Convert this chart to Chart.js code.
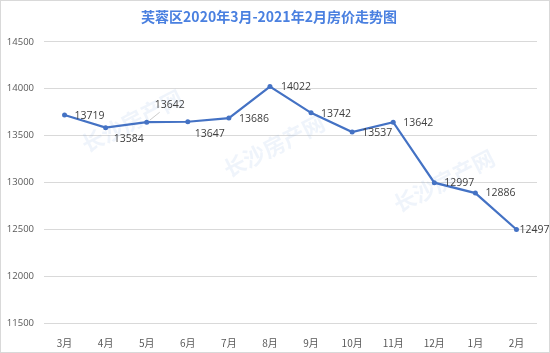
<!DOCTYPE html>
<html>
<head>
<meta charset="utf-8">
<script src="https://cdn.jsdelivr.net/npm/chart.js@4"></script>
<style>
  html, body { margin: 0; padding: 0; background: #fff; }
  #wrap { width: 548px; height: 351px; border: 1px solid #d9d9d9; }
</style>
</head>
<body>
<div id="wrap"><canvas id="myChart" width="548" height="351"></canvas></div>
<script>
var months = ["3月", "4月", "5月", "6月", "7月", "8月", "9月", "10月", "11月", "12月", "1月", "2月"];
var prices = [13719, 13584, 13642, 13647, 13686, 14022, 13742, 13537, 13642, 12997, 12886, 12497];
var yTicks = [11500, 12000, 12500, 13000, 13500, 14000, 14500];

// where each value label sits relative to its point (dx, dy)
var labelOffsets = [
  [10, 1], [8, 11], [8, -17], [7, 12], [10, 1], [11, 0],
  [10, 1], [10, 1], [10, 1], [10, 0], [10, 0], [3, 0]
];

var blue = "#4472C4";

var valueLabels = {
  id: "valueLabels",
  afterDatasetsDraw: function (chart) {
    var ctx = chart.ctx;
    var meta = chart.getDatasetMeta(0);
    ctx.save();
    ctx.font = "10.5px 'Open Sans', sans-serif";
    ctx.fillStyle = "#404040";
    ctx.textAlign = "left";
    ctx.textBaseline = "middle";
    meta.data.forEach(function (pt, i) {
      var off = labelOffsets[i];
      var x = pt.x + off[0];
      var y = pt.y + off[1];
      if (i == 2) {
        // leader line
        ctx.strokeStyle = "#bfbfbf";
        ctx.lineWidth = 0.8;
        ctx.beginPath();
        ctx.moveTo(pt.x + 3, pt.y - 2);
        ctx.lineTo(x + 5, y + 7);
        ctx.stroke();
      }
      ctx.fillText(String(chart.data.datasets[0].data[i]), x, y);
    });
    ctx.restore();
  }
};

var watermark = {
  id: "watermark",
  beforeDatasetsDraw: function (chart) {
    var ctx = chart.ctx;
    var spots = [[131, 120], [273, 145], [443, 180]];
    ctx.save();
    ctx.font = "bold 22px 'Noto Sans CJK SC', sans-serif";
    ctx.fillStyle = "rgba(120, 165, 225, 0.12)";
    ctx.textAlign = "center";
    ctx.textBaseline = "middle";
    spots.forEach(function (s) {
      ctx.save();
      ctx.translate(s[0], s[1]);
      ctx.rotate(-0.47);
      ctx.fillText("长沙房产网", 0, 0);
      ctx.restore();
    });
    ctx.restore();
  }
};

var ctx = document.getElementById("myChart");
var config = {
  type: "line",
  data: {
    labels: months,
    datasets: [
      {
        data: prices,
        borderColor: blue,
        backgroundColor: blue,
        borderWidth: 2.2,
        pointRadius: 2.5,
        pointBackgroundColor: blue,
        pointBorderWidth: 0,
        tension: 0
      }
    ]
  },
  options: {
    responsive: false,
    animation: false,
    layout: { padding: { top: 0, right: 12, bottom: 0, left: 0 } },
    plugins: {
      legend: { display: false },
      tooltip: { enabled: false },
      title: {
        display: true,
        text: "芙蓉区2020年3月-2021年2月房价走势图",
        color: "#4a80e0",
        font: { family: "'Noto Sans CJK SC', sans-serif", size: 14, weight: "bold" },
        padding: { top: 7, bottom: 17 }
      }
    },
    scales: {
      x: {
        offset: true,
        grid: { display: false },
        border: { display: false },
        ticks: {
          color: "#595959",
          font: { family: "'Noto Sans CJK SC', sans-serif", size: 10 },
          padding: 6
        },
        afterFit: function (scale) { scale.height = 29; }
      },
      y: {
        min: 11500,
        max: 14500,
        afterBuildTicks: function (scale) {
          scale.ticks = yTicks.map(function (v) { return { value: v }; });
        },
        grid: { color: "#d9d9d9", drawTicks: false },
        border: { display: false },
        ticks: {
          color: "#595959",
          font: { family: "'Open Sans', sans-serif", size: 9.5 },
          padding: 10,
          callback: function (v) { return String(v); }
        },
        afterFit: function (scale) { scale.width = 43; }
      }
    }
  },
  plugins: [watermark, valueLabels]
};

var myChart = new Chart(ctx, config);
</script>
</body>
</html>
